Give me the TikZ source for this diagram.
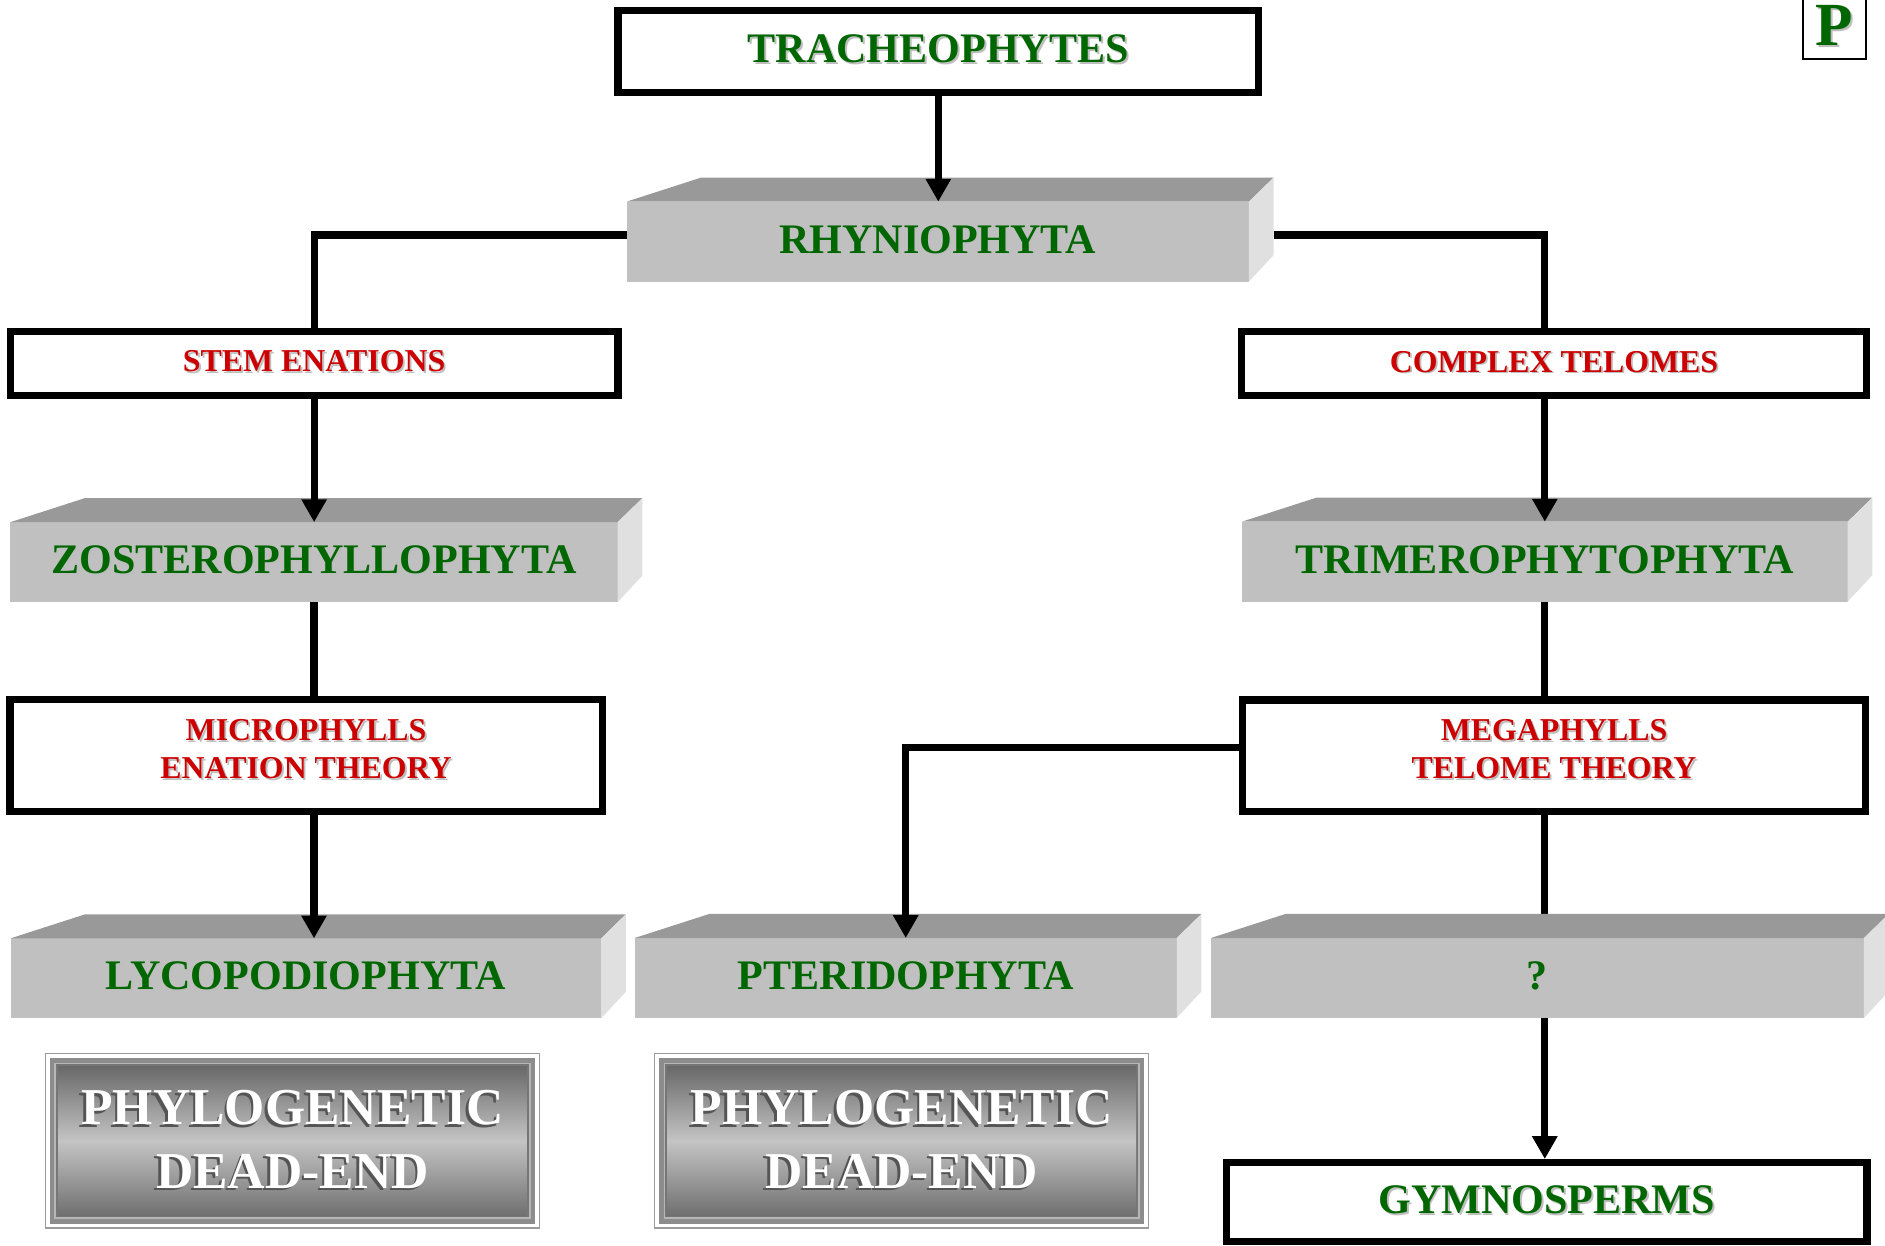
\documentclass[tikz,border=0pt]{standalone}
\usepackage{fontspec}
\setmainfont{Liberation Serif}
\usetikzlibrary{arrows.meta}

\definecolor{leafgreen}{RGB}{0,102,0}
\definecolor{notered}{RGB}{204,0,0}
\definecolor{slabtop}{RGB}{153,153,153}
\definecolor{slabfront}{RGB}{192,192,192}
\definecolor{slabside}{RGB}{224,224,224}
\definecolor{softgray}{RGB}{190,190,190}
\definecolor{embossgray}{RGB}{85,85,85}
\definecolor{rimgray}{RGB}{155,155,155}
\definecolor{bandgray}{RGB}{140,140,140}
\definecolor{bandlight}{RGB}{182,182,182}
\definecolor{banddark}{RGB}{118,118,118}
\definecolor{shadetop}{RGB}{105,105,105}
\definecolor{shademid}{RGB}{196,196,196}
\definecolor{shadebot}{RGB}{112,112,112}

\newcommand{\taxonfont}{\fontsize{35}{42}\selectfont\bfseries}
\newcommand{\traitfont}{\fontsize{26.5}{31.5}\selectfont\bfseries}
\newcommand{\deadfont}{\fontsize{43}{53}\selectfont\bfseries}
\newcommand{\soft}[1]{\leavevmode\rlap{\hspace{1.5pt}\raisebox{-1.5pt}{\textcolor{softgray}{#1}}}#1}
\newcommand{\emboss}[1]{\leavevmode\rlap{\hspace{-2pt}\raisebox{-2pt}{\textcolor{embossgray}{#1}}}#1}
\newcommand{\slabfaces}[1]{%
  \fill[slabtop] (#1.north west) -- ++(62,-20) -- ([shift={(20.5,-20)}]#1.north east) -- (#1.north east) -- cycle;
  \fill[slabside] (#1.north east) -- ++(20.5,-20) -- ([shift={(20.5,-22)}]#1.south east) -- (#1.south east) -- cycle;
}
\newcommand{\deadfill}{%
  \fill[bandgray] ([shift={(3.5,3.5)}]path picture bounding box.north west) rectangle ([shift={(-3.5,-3.5)}]path picture bounding box.south east);
  \fill[bandlight] ([shift={(7.5,7.5)}]path picture bounding box.north west) rectangle ([shift={(-7.5,-7.5)}]path picture bounding box.south east);
  \fill[banddark] ([shift={(8.8,8.8)}]path picture bounding box.north west) rectangle ([shift={(-8.8,-8.8)}]path picture bounding box.south east);
  \shade[top color=shadetop, bottom color=shadebot, middle color=shademid] ([shift={(10.5,10.5)}]path picture bounding box.north west) rectangle ([shift={(-10.5,-10.5)}]path picture bounding box.south east);
}

\begin{document}
\begin{tikzpicture}[line join=miter,>={Triangle[width=20pt,length=19pt]},x=1pt,y=-1pt,
  box/.style={draw, line width=6pt, fill=white, inner sep=0pt, text depth=4pt},
  taxon/.style={box, text=leafgreen, font=\taxonfont},
  trait/.style={box, text=notered, font=\traitfont, align=center},
  slab/.style={fill=slabfront, minimum height=66.5pt, inner sep=0pt, outer sep=0pt, text depth=4pt, text=leafgreen, font=\taxonfont},
  deadend/.style={rectangle, draw=rimgray, line width=1.2pt, fill=white, minimum width=411pt, minimum height=145pt, inner sep=0pt, outer sep=0pt, text=white, font=\deadfont, align=center, path picture={\deadfill}},
  pmark/.style={draw, line width=1.6pt, fill=white, minimum width=52pt, minimum height=54pt, inner sep=0pt, text=leafgreen, font=\fontsize{51}{60}\selectfont\bfseries},
  conn/.style={line width=6pt}]
\useasboundingbox (0,0) rectangle (1568,1036);
\clip (0,0) rectangle (1568,1036);

\node[taxon, minimum width=533pt, minimum height=68pt, text depth=5.6pt] (trach) at (780.5,43) {\soft{TRACHEOPHYTES}};
\node[slab, minimum width=517.7pt] (rhy) at (780,201) {\soft{RHYNIOPHYTA}};
\node[trait, minimum width=505.7pt, minimum height=53.2pt, text depth=3pt] (stem) at (261.3,302.1) {\soft{STEM ENATIONS}};
\node[trait, minimum width=519.6pt, minimum height=53.5pt, text depth=3pt] (complex) at (1292.6,302.2) {\soft{COMPLEX TELOMES}};
\node[slab, minimum width=505.2pt] (zos) at (261.2,467.6) {\soft{ZOSTEROPHYLLOPHYTA}};
\node[slab, minimum width=503.9pt] (tri) at (1285,467.2) {\soft{TRIMEROPHYTOPHYTA}};
\node[trait, minimum width=492.5pt, minimum height=93.4pt, text depth=10.5pt] (micro) at (254.6,628.3) {\soft{MICROPHYLLS}\\\soft{ENATION THEORY}};
\node[trait, minimum width=518.7pt, minimum height=92.8pt, text depth=10.5pt] (mega) at (1292.7,628.6) {\soft{MEGAPHYLLS}\\\soft{TELOME THEORY}};
\node[slab, minimum width=491.3pt] (lyc) at (254.4,813.8) {\soft{LYCOPODIOPHYTA}};
\node[slab, minimum width=450.9pt] (pte) at (753.4,813.5) {\soft{PTERIDOPHYTA}};
\node[slab, minimum width=543.2pt] (unk) at (1278.9,813.5) {\soft{?}};
\node[deadend] (deadlyc) at (243.3,949) {\emboss{PHYLOGENETIC}\\\emboss{DEAD-END}};
\node[deadend] (deadpte) at (750,949) {\emboss{PHYLOGENETIC}\\\emboss{DEAD-END}};
\node[taxon, minimum width=533pt, minimum height=65.7pt] (gymno) at (1286.5,1000) {\soft{GYMNOSPERMS}};
\node[pmark] (plate) at (1526,22) {\soft{P}};

\draw[conn] (mega.south -| tri) -- (unk.north -| tri);
\slabfaces{rhy}
\slabfaces{zos}
\slabfaces{tri}
\slabfaces{lyc}
\slabfaces{pte}
\slabfaces{unk}

\draw[conn,->] (trach.south) -- (trach.south |- rhy.north);
\draw[conn] ([shift={(0,-5.5)}]rhy.west) -| (stem.north);
\draw[conn] ([shift={(20.5,-5.5)}]rhy.east) -| (complex.north -| tri);
\draw[conn,->] (stem.south) -- (stem.south |- zos.north);
\draw[conn,->] (complex.south -| tri) -- (tri.north);
\draw[conn] (zos.south) -- (micro.north -| zos);
\draw[conn] (tri.south) -- (mega.north -| tri);
\draw[conn,->] (micro.south -| zos) -- (lyc.north -| zos);
\draw[conn,->] ([shift={(0,-7)}]mega.west) -| (pte.north);
\draw[conn,->] (unk.south -| tri) -- (gymno.north -| tri);

\end{tikzpicture}
\end{document}
